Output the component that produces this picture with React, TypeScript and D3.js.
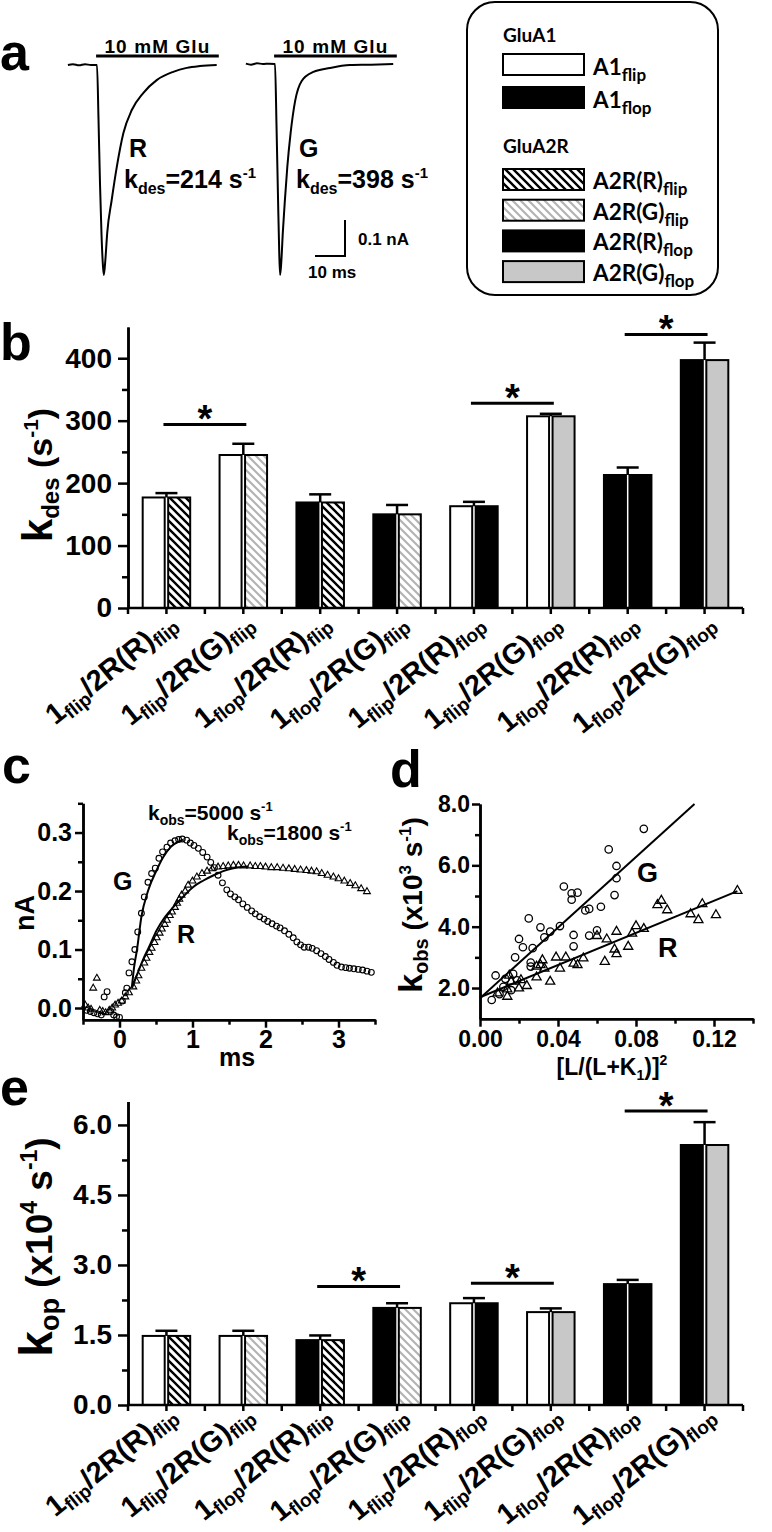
import React, { useRef, useEffect } from "react";
import * as d3 from "d3";

const ARIAL = "'Liberation Sans', Arial, Helvetica, sans-serif";
const CALIBRI = "Lato, 'Open Sans', 'Liberation Sans', sans-serif";

// panel a: example currents, [ms from Glu onset, nA]
const traceR: [number, number][] = [
  [-9.7, 0], [-8, 0.002], [-6, -0.001], [-4, 0.002], [-2, 0], [0, 0],
  [0.5, -0.15], [1.0, -0.33], [1.5, -0.47], [2.0, -0.56], [2.3, -0.583],
  [2.8, -0.54], [3.4, -0.467], [4.9, -0.375], [6.6, -0.283], [8.8, -0.189],
  [11.6, -0.125], [15.4, -0.078], [19.9, -0.042], [25.4, -0.019],
  [29.9, -0.008], [34.3, -0.003], [39.9, 0],
];
const traceG: [number, number][] = [
  [-9.7, 0.001], [-8, -0.002], [-6, 0.002], [-4, 0], [-2, 0.001], [0, 0],
  [0.5, -0.17], [1.0, -0.37], [1.4, -0.52], [1.7, -0.586], [2.1, -0.55],
  [2.6, -0.469], [3.3, -0.378], [4.1, -0.286], [5.2, -0.192], [6.7, -0.103],
  [8.9, -0.047], [12.8, -0.022], [18.3, -0.011], [25, -0.003], [32, -0.002],
  [39.4, 0],
];
const gluPulse = [-0.3, 40.6];
const kdesExample = [214, 398];

// groups shared by panels b and e
const a1Splice = ["flip", "flip", "flop", "flop", "flip", "flip", "flop", "flop"];
const a2Site = ["R", "G", "R", "G", "R", "G", "R", "G"];
const a2Splice = ["flip", "flip", "flip", "flip", "flop", "flop", "flop", "flop"];

// panel b
const kdesMean = [177, 245, 169, 150, 163, 307, 213, 397];
const kdesSem = [7, 18, 13, 15, 7, 4, 12, 28];
const kdesSig: [number, number, number][] = [[0, 1, 294], [4, 5, 328], [6, 7, 438]];
const kdesTicks = [0, 100, 200, 300, 400];
const kdesMinor = [50, 150, 250, 350];

// panel e
const kopMean = [1.48, 1.48, 1.39, 2.08, 2.18, 1.99, 2.59, 5.57];
const kopSem = [0.11, 0.11, 0.1, 0.1, 0.11, 0.08, 0.09, 0.49];
const kopSig: [number, number, number][] = [[2, 3, 2.54], [4, 5, 2.61], [6, 7, 6.3]];
const kopTicks = [0, 1.5, 3, 4.5, 6];
const kopMinor = [0.75, 2.25, 3.75, 5.25];

// panel c: rise of current, [ms, nA]
const riseG: [number, number][] = [
  [-0.45, -0.004], [-0.4, -0.006], [-0.35, -0.008], [-0.3, -0.01], [-0.25, -0.012],
  [-0.21, 0.019], [-0.17, 0.028], [-0.12, -0.006], [-0.08, -0.012], [-0.04, -0.015],
  [0, -0.016], [0.04, 0.012], [0.08, 0.026], [0.1, 0.034], [0.13, 0.06], [0.17, 0.079],
  [0.21, 0.1], [0.25, 0.13], [0.3, 0.162], [0.34, 0.19], [0.39, 0.215], [0.44, 0.23],
  [0.49, 0.239], [0.54, 0.256], [0.59, 0.267], [0.65, 0.275], [0.7, 0.282], [0.76, 0.286],
  [0.81, 0.288], [0.86, 0.289], [0.92, 0.287], [0.97, 0.282], [1.02, 0.278], [1.08, 0.273],
  [1.14, 0.266], [1.2, 0.258], [1.25, 0.249], [1.3, 0.24], [1.35, 0.227], [1.41, 0.214],
  [1.47, 0.202], [1.52, 0.195], [1.58, 0.19], [1.63, 0.185], [1.69, 0.178], [1.75, 0.172],
  [1.81, 0.166], [1.86, 0.161], [1.92, 0.156], [1.98, 0.152], [2.03, 0.148], [2.09, 0.144],
  [2.15, 0.14], [2.2, 0.137], [2.26, 0.132], [2.32, 0.126], [2.38, 0.12], [2.43, 0.113],
  [2.48, 0.108], [2.53, 0.104], [2.59, 0.104], [2.64, 0.102], [2.7, 0.098], [2.76, 0.093],
  [2.82, 0.088], [2.87, 0.083], [2.93, 0.078], [2.98, 0.073], [3.04, 0.07], [3.1, 0.069],
  [3.15, 0.068], [3.21, 0.067], [3.27, 0.066], [3.33, 0.065], [3.39, 0.063], [3.45, 0.061],
];
const riseR: [number, number][] = [
  [-0.47, 0.005], [-0.43, 0], [-0.39, -0.002], [-0.36, 0.034], [-0.31, 0.051], [-0.27, -0.004],
  [-0.23, -0.006], [-0.19, -0.008], [-0.14, -0.004], [-0.1, 0], [-0.06, 0.005], [-0.02, 0.008],
  [0.03, 0.012], [0.08, 0.019], [0.13, 0.026], [0.19, 0.036], [0.23, 0.046], [0.26, 0.055],
  [0.3, 0.068], [0.34, 0.077], [0.37, 0.085], [0.41, 0.095], [0.44, 0.102], [0.48, 0.112],
  [0.51, 0.12], [0.55, 0.128], [0.58, 0.135], [0.62, 0.143], [0.65, 0.15], [0.69, 0.158],
  [0.72, 0.164], [0.76, 0.172], [0.79, 0.179], [0.82, 0.186], [0.85, 0.193], [0.9, 0.2],
  [0.94, 0.21], [1.0, 0.217], [1.06, 0.224], [1.13, 0.23], [1.2, 0.234], [1.27, 0.238],
  [1.35, 0.241], [1.42, 0.242], [1.49, 0.243], [1.56, 0.244], [1.63, 0.244], [1.7, 0.243],
  [1.79, 0.243], [1.86, 0.242], [1.93, 0.242], [2.0, 0.241], [2.08, 0.24], [2.16, 0.24],
  [2.24, 0.239], [2.32, 0.238], [2.4, 0.237], [2.48, 0.236], [2.56, 0.235], [2.63, 0.234],
  [2.7, 0.233], [2.77, 0.23], [2.85, 0.227], [2.93, 0.224], [3.0, 0.221], [3.08, 0.217],
  [3.16, 0.213], [3.23, 0.209], [3.31, 0.204], [3.39, 0.199],
];
const fitG: [number, number][] = [
  [0.17, 0.036], [0.2, 0.07], [0.24, 0.1], [0.3, 0.156], [0.39, 0.2], [0.51, 0.236],
  [0.6, 0.258], [0.7, 0.275], [0.8, 0.284], [0.87, 0.288],
];
const fitR: [number, number][] = [
  [0.17, 0.034], [0.25, 0.06], [0.32, 0.082], [0.4, 0.103], [0.51, 0.133], [0.62, 0.155],
  [0.74, 0.173], [0.87, 0.19], [1.01, 0.207], [1.15, 0.218], [1.29, 0.227], [1.42, 0.234],
  [1.56, 0.239], [1.77, 0.242],
];
const kobsExample = [5000, 1800];
const cTicksX = [0, 1, 2, 3];
const cMinorX = [-0.5, 0.5, 1.5, 2.5, 3.5];
const cTicksY = [0, 0.1, 0.2, 0.3];
const cMinorY = [0.05, 0.15, 0.25, 0.35];

// panel d: kobs (x10^3 s^-1) vs [L/(L+K1)]^2
const kobsG: [number, number][] = [
  [0.006, 1.61], [0.008, 2.41], [0.01, 1.8], [0.012, 2.04], [0.013, 2.3], [0.016, 1.93],
  [0.017, 2.46], [0.018, 3.0], [0.019, 2.25], [0.02, 3.6], [0.022, 3.33], [0.025, 4.27],
  [0.026, 2.83], [0.026, 2.7], [0.027, 3.3], [0.031, 3.98], [0.033, 3.65], [0.036, 3.84],
  [0.041, 4.02], [0.043, 5.31], [0.047, 4.88], [0.047, 5.09], [0.048, 3.73], [0.048, 3.36],
  [0.05, 5.11], [0.054, 4.53], [0.056, 3.71], [0.056, 4.58], [0.06, 3.88], [0.062, 4.65],
  [0.066, 6.52], [0.069, 5.03], [0.07, 5.58], [0.07, 5.98], [0.084, 7.19],
];
const kobsR: [number, number][] = [
  [0.009, 1.83], [0.014, 1.72], [0.014, 1.96], [0.015, 2.41], [0.016, 2.21], [0.02, 1.99],
  [0.021, 2.26], [0.024, 2.07], [0.029, 2.35], [0.029, 2.7], [0.031, 2.75], [0.032, 2.91],
  [0.033, 2.64], [0.036, 2.21], [0.039, 3.0], [0.041, 2.64], [0.044, 3.0], [0.048, 2.8],
  [0.05, 2.75], [0.053, 2.97], [0.06, 3.7], [0.064, 2.86], [0.065, 3.59], [0.069, 3.26],
  [0.07, 3.84], [0.07, 3.11], [0.076, 3.35], [0.078, 3.78], [0.08, 4.02], [0.084, 3.93],
  [0.091, 4.71], [0.093, 4.85], [0.096, 4.54], [0.108, 4.41], [0.112, 4.22], [0.114, 4.74],
  [0.121, 4.38], [0.132, 5.17],
];
const lineG: [number, number][] = [[0, 1.67], [0.11, 8.0]];
const lineR: [number, number][] = [[0, 1.7], [0.132, 5.16]];
const dTicksX = [0, 0.04, 0.08, 0.12];
const dMinorX = [0.02, 0.06, 0.1, 0.14];
const dTicksY = [2, 4, 6, 8];
const dMinorY = [3, 5, 7];

// legend
const legendA1 = ["flip", "flop"];
const legendA2: [string, string][] = [["R", "flip"], ["G", "flip"], ["R", "flop"], ["G", "flop"]];

const a1Fill = (s: string) => (s === "flip" ? "#fff" : "#000");
const a2Fill = (site: string, s: string) =>
  s === "flip" ? (site === "R" ? "url(#hatchK)" : "url(#hatchG)") : site === "R" ? "#000" : "#c8c8c8";

type Seg = { t: string; fs: number; shift?: number };
function Rich({ segs, ...rest }: { segs: Seg[] } & any) {
  let cur = 0;
  return (
    <text fontFamily={ARIAL} fontWeight="bold" fill="#000" {...rest}>
      {segs.map((s: Seg, i: number) => {
        const target = s.shift ?? 0;
        const dy = target - cur;
        cur = target;
        return (
          <tspan key={i} fontSize={s.fs} dy={dy}>
            {s.t}
          </tspan>
        );
      })}
    </text>
  );
}

function Axis({ side, scale, x = 0, y = 0, major, minor, fmt, fontSize, majorLen, minorLen, pad }: any) {
  const ref = useRef<SVGGElement>(null);
  useEffect(() => {
    const g = d3.select(ref.current);
    g.selectAll("*").remove();
    const mk = side === "left" ? d3.axisLeft : d3.axisBottom;
    g.append("g").call(mk(scale).tickValues(minor).tickSize(minorLen).tickSizeOuter(0).tickFormat(() => "") as any);
    g.append("g").call(
      mk(scale).tickValues(major).tickSize(majorLen).tickSizeOuter(0).tickPadding(pad).tickFormat(fmt) as any
    );
    g.selectAll("path.domain, line").attr("stroke", "#000").attr("stroke-width", 2.5);
    g.selectAll("text")
      .attr("font-family", ARIAL)
      .attr("font-weight", "bold")
      .attr("font-size", fontSize)
      .attr("fill", "#000");
  });
  return <g ref={ref} transform={`translate(${x},${y})`} />;
}

const xBand = d3.scaleBand<number>().domain(d3.range(8)).range([128, 743]);

function catLabel(i: number): Seg[] {
  return [
    { t: "1", fs: 29 },
    { t: a1Splice[i], fs: 19, shift: 5 },
    { t: `/2R(${a2Site[i]})`, fs: 29 },
    { t: a2Splice[i], fs: 19, shift: 5 },
  ];
}

function BarChart({ mean, sem, sig, yScale, major, minor, fmt, labelDy }: any) {
  const zero = yScale(0);
  const bw = xBand.bandwidth();
  const w = 22;
  const centers = mean.map((_: number, i: number) => (xBand(i) as number) + bw / 2);
  return (
    <g>
      {mean.map((m: number, i: number) => {
        const c = centers[i];
        const top = yScale(m);
        const hi = yScale(m + sem[i]);
        return (
          <g key={i}>
            <rect x={c - 1.75 - w} y={top} width={w} height={zero - top} fill={a1Fill(a1Splice[i])} stroke="#000" strokeWidth={2} />
            <rect x={c + 1.75} y={top} width={w} height={zero - top} fill={a2Fill(a2Site[i], a2Splice[i])} stroke="#000" strokeWidth={2} />
            <line x1={c} x2={c} y1={top} y2={hi} stroke="#000" strokeWidth={2.5} />
            <line x1={c - 11} x2={c + 11} y1={hi} y2={hi} stroke="#000" strokeWidth={2.5} />
          </g>
        );
      })}
      {sig.map(([a, b, lv]: [number, number, number], k: number) => {
        const yy = yScale(lv);
        return (
          <g key={k}>
            <line x1={centers[a] - 3} x2={centers[b] + 3} y1={yy} y2={yy} stroke="#000" strokeWidth={3} />
            <text x={(centers[a] + centers[b]) / 2} y={yy + 8} textAnchor="middle" fontFamily={ARIAL} fontWeight="bold" fontSize={38}>
              *
            </text>
          </g>
        );
      })}
      <line x1={128} x2={743} y1={zero} y2={zero} stroke="#000" strokeWidth={2.5} />
      {d3.range(9).map((k) => (
        <line key={"b" + k} x1={128 + k * bw} x2={128 + k * bw} y1={zero} y2={zero + 6} stroke="#000" strokeWidth={2.5} />
      ))}
      {centers.map((c: number, k: number) => (
        <line key={"c" + k} x1={c} x2={c} y1={zero} y2={zero + 6} stroke="#000" strokeWidth={2.5} />
      ))}
      <Axis side="left" scale={yScale} x={128} major={major} minor={minor} fmt={fmt} fontSize={28} majorLen={10} minorLen={6} pad={6} />
      {centers.map((c: number, i: number) => (
        <Rich key={"l" + i} segs={catLabel(i)} textAnchor="end" transform={`translate(${c + 12},${zero + labelDy}) rotate(-39)`} />
      ))}
    </g>
  );
}

export default function App() {
  // panel a
  const xAR = d3.scaleLinear().domain([0, 10]).range([97, 127]);
  const yAR = d3.scaleLinear().domain([0, -0.1]).range([65, 101]);
  const xAG = d3.scaleLinear().domain([0, 10]).range([275, 305]);
  const yAG = d3.scaleLinear().domain([0, -0.1]).range([64, 100]);
  const lineAR = d3.line<[number, number]>().x((d) => xAR(d[0])).y((d) => yAR(d[1])).curve(d3.curveMonotoneX);
  const lineAG = d3.line<[number, number]>().x((d) => xAG(d[0])).y((d) => yAG(d[1])).curve(d3.curveMonotoneX);
  const sbW = xAG(10) - xAG(0);
  const sbH = yAG(-0.1) - yAG(0);

  // panels b, e
  const yB = d3.scaleLinear().domain([0, 450]).range([608, 327]);
  const yE = d3.scaleLinear().domain([0, 6.5]).range([1405, 1101.6]);

  // panel c
  const xC = d3.scaleLinear().domain([-0.5, 3.5]).range([83, 375]);
  const yC = d3.scaleLinear().domain([-0.02, 0.35]).range([1019.7, 803.3]);
  const lineC = d3.line<[number, number]>().x((d) => xC(d[0])).y((d) => yC(d[1])).curve(d3.curveMonotoneX);
  const triC = d3.symbol(d3.symbolTriangle, 20)();

  // panel d
  const xD = d3.scaleLinear().domain([0, 0.14]).range([480, 753]);
  const yD = d3.scaleLinear().domain([1, 8]).range([1018.7, 804]);
  const lineD = d3.line<[number, number]>().x((d) => xD(d[0])).y((d) => yD(d[1]));
  const triD = d3.symbol(d3.symbolTriangle, 36)();

  const letter = (t: string, x: number, y: number) => (
    <text x={x} y={y} fontFamily={ARIAL} fontWeight="bold" fontSize={52}>
      {t}
    </text>
  );

  return (
    <svg width={772} height={1532} style={{ position: "absolute", left: 0, top: 0, background: "#fff" }}>
      <defs>
        <pattern id="hatchK" patternUnits="userSpaceOnUse" width={8} height={8}>
          <rect width={8} height={8} fill="#fff" />
          <path d="M-2,-2 L10,10 M-2,6 L2,10 M6,-2 L10,2" stroke="#000" strokeWidth={2.4} />
        </pattern>
        <pattern id="hatchG" patternUnits="userSpaceOnUse" width={8} height={8}>
          <rect width={8} height={8} fill="#fff" />
          <path d="M-2,-2 L10,10 M-2,6 L2,10 M6,-2 L10,2" stroke="#b4b4b4" strokeWidth={2.2} />
        </pattern>
      </defs>

      {/* panel a */}
      {letter("a", 0, 70)}
      <path d={lineAR(traceR) || ""} fill="none" stroke="#000" strokeWidth={2} />
      <path d={lineAG(traceG) || ""} fill="none" stroke="#000" strokeWidth={2} />
      {[xAR, xAG].map((xs, k) => (
        <g key={k}>
          <line x1={xs(gluPulse[0])} x2={xs(gluPulse[1])} y1={56} y2={56} stroke="#000" strokeWidth={3} />
          <text x={(xs(gluPulse[0]) + xs(gluPulse[1])) / 2} y={53} textAnchor="middle" fontFamily={ARIAL} fontWeight="bold" fontSize={19} letterSpacing={1.1}>
            10 mM Glu
          </text>
        </g>
      ))}
      <text x={129} y={157} fontFamily={ARIAL} fontWeight="bold" fontSize={25}>R</text>
      <text x={299} y={157} fontFamily={ARIAL} fontWeight="bold" fontSize={25}>G</text>
      {[124, 296].map((x, k) => (
        <Rich key={k} x={x} y={188} segs={[
          { t: "k", fs: 25 },
          { t: "des", fs: 16, shift: 6 },
          { t: `=${kdesExample[k]} s`, fs: 25 },
          { t: "-1", fs: 15, shift: -10 },
        ]} />
      ))}
      <path d={`M${345 - sbW},256 H345 V${256 - sbH}`} fill="none" stroke="#000" strokeWidth={2} />
      <text x={358} y={245} fontFamily={ARIAL} fontWeight="bold" fontSize={17}>0.1 nA</text>
      <text x={308} y={278} fontFamily={ARIAL} fontWeight="bold" fontSize={17}>10 ms</text>

      {/* legend */}
      <rect x={467} y={2} width={251} height={293} rx={28} fill="#fff" stroke="#000" strokeWidth={2} />
      <text x={503} y={42} fontFamily={CALIBRI} fontWeight="bold" fontSize={19}>GluA1</text>
      {legendA1.map((s, k) => (
        <g key={k}>
          <rect x={503} y={54 + k * 33} width={81} height={21} fill={a1Fill(s)} stroke="#000" strokeWidth={2} />
          <Rich x={593} y={75 + k * 33} fontFamily={CALIBRI} segs={[{ t: "A1", fs: 22.5 }, { t: s, fs: 17, shift: 6 }]} />
        </g>
      ))}
      <text x={503} y={153} fontFamily={CALIBRI} fontWeight="bold" fontSize={19}>GluA2R</text>
      {legendA2.map(([site, s], k) => (
        <g key={k}>
          <rect x={503} y={169 + k * 30.7} width={81} height={21} fill={a2Fill(site, s)} stroke="#000" strokeWidth={2} />
          <Rich x={593} y={189 + k * 30.7} fontFamily={CALIBRI} segs={[{ t: `A2R(${site})`, fs: 22.5 }, { t: s, fs: 17, shift: 6 }]} />
        </g>
      ))}

      {/* panel b */}
      {letter("b", 0, 360)}
      <BarChart mean={kdesMean} sem={kdesSem} sig={kdesSig} yScale={yB} major={kdesTicks} minor={kdesMinor} fmt={d3.format("d")} labelDy={18} />
      <Rich textAnchor="middle" transform="translate(52,475) rotate(-90)" segs={[
        { t: "k", fs: 42 },
        { t: "des", fs: 24, shift: 7 },
        { t: " (s", fs: 34 },
        { t: "-1", fs: 21, shift: -14 },
        { t: ")", fs: 34 },
      ]} />

      {/* panel c */}
      {letter("c", 2, 783)}
      {riseG.map((d, i) => (
        <circle key={"g" + i} cx={xC(d[0])} cy={yC(d[1])} r={2.9} fill="none" stroke="#000" strokeWidth={1.1} />
      ))}
      {riseR.map((d, i) => (
        <path key={"r" + i} d={triC || ""} transform={`translate(${xC(d[0])},${yC(d[1])})`} fill="none" stroke="#000" strokeWidth={1.1} />
      ))}
      <path d={lineC(fitG) || ""} fill="none" stroke="#000" strokeWidth={2} />
      <path d={lineC(fitR) || ""} fill="none" stroke="#000" strokeWidth={2} />
      <Axis side="left" scale={yC} x={83} major={cTicksY} minor={cMinorY} fmt={d3.format(".1f")} fontSize={25} majorLen={8} minorLen={5} pad={3} />
      <Axis side="bottom" scale={xC} y={1019.7} major={cTicksX} minor={cMinorX} fmt={d3.format("d")} fontSize={25} majorLen={8} minorLen={5} pad={3} />
      <text x={237} y={1066} textAnchor="middle" fontFamily={ARIAL} fontWeight="bold" fontSize={25}>ms</text>
      <text transform="translate(34,913) rotate(-90)" textAnchor="middle" fontFamily={ARIAL} fontWeight="bold" fontSize={27}>nA</text>
      <text x={113} y={890} fontFamily={ARIAL} fontWeight="bold" fontSize={25}>G</text>
      <text x={177} y={943} fontFamily={ARIAL} fontWeight="bold" fontSize={25}>R</text>
      {[[148, 820], [227, 840]].map(([x, y], k) => (
        <Rich key={k} x={x} y={y} segs={[
          { t: "k", fs: 21 },
          { t: "obs", fs: 14, shift: 5 },
          { t: `=${kobsExample[k]} s`, fs: 21 },
          { t: "-1", fs: 13, shift: -9 },
        ]} />
      ))}

      {/* panel d */}
      {letter("d", 390, 787)}
      {kobsG.map((d, i) => (
        <circle key={"g" + i} cx={xD(d[0])} cy={yD(d[1])} r={3.7} fill="none" stroke="#000" strokeWidth={1.3} />
      ))}
      {kobsR.map((d, i) => (
        <path key={"r" + i} d={triD || ""} transform={`translate(${xD(d[0])},${yD(d[1])})`} fill="none" stroke="#000" strokeWidth={1.3} />
      ))}
      <path d={lineD(lineG) || ""} fill="none" stroke="#000" strokeWidth={2} />
      <path d={lineD(lineR) || ""} fill="none" stroke="#000" strokeWidth={2} />
      <Axis side="left" scale={yD} x={480} major={dTicksY} minor={dMinorY} fmt={d3.format(".1f")} fontSize={23} majorLen={8} minorLen={5} pad={2} />
      <Axis side="bottom" scale={xD} y={1018.7} major={dTicksX} minor={dMinorX} fmt={d3.format(".2f")} fontSize={23} majorLen={8} minorLen={5} pad={4} />
      <text x={637} y={882} fontFamily={ARIAL} fontWeight="bold" fontSize={27}>G</text>
      <text x={658} y={957} fontFamily={ARIAL} fontWeight="bold" fontSize={27}>R</text>
      <Rich x={612} y={1075} textAnchor="middle" segs={[
        { t: "[L/(L+K", fs: 23 },
        { t: "1", fs: 14, shift: 5 },
        { t: ")]", fs: 23 },
        { t: "2", fs: 14, shift: -10 },
      ]} />
      <Rich textAnchor="middle" transform="translate(422,905) rotate(-90)" segs={[
        { t: "k", fs: 34 },
        { t: "obs", fs: 20, shift: 6 },
        { t: " (x10", fs: 28 },
        { t: "3", fs: 17, shift: -11 },
        { t: " s", fs: 28 },
        { t: "-1", fs: 17, shift: -11 },
        { t: ")", fs: 28 },
      ]} />

      {/* panel e */}
      {letter("e", 0, 1105)}
      <BarChart mean={kopMean} sem={kopSem} sig={kopSig} yScale={yE} major={kopTicks} minor={kopMinor} fmt={d3.format(".1f")} labelDy={13} />
      <Rich textAnchor="middle" transform="translate(52,1247) rotate(-90)" segs={[
        { t: "k", fs: 46 },
        { t: "op", fs: 27, shift: 7 },
        { t: " (x10", fs: 37 },
        { t: "4", fs: 23, shift: -15 },
        { t: " s", fs: 37 },
        { t: "-1", fs: 23, shift: -15 },
        { t: ")", fs: 37 },
      ]} />
    </svg>
  );
}
